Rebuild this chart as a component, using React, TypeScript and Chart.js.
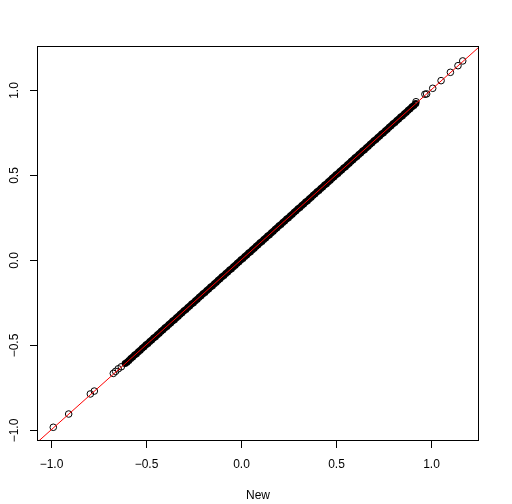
import React, { useEffect, useRef } from "react";
import { Chart, registerables } from "chart.js";

Chart.register(...registerables);

// Axis ticks
const xTickValues = [-1.0, -0.5, 0.0, 0.5, 1.0];
const xTickLabels = ["\u22121.0", "\u22120.5", "0.0", "0.5", "1.0"];
const yTickValues = [-1.0, -0.5, 0.0, 0.5, 1.0];
const yTickLabels = ["\u22121.0", "\u22120.5", "0.0", "0.5", "1.0"];
const xAxisTitle = "New";

// Axis ranges (R style, 4% extension)
const xRange = [-1.0737, 1.2526];
const yRange = [-1.0647, 1.2588];

// Isolated points at the lower tail
const lowTailX = [-0.988, -0.907, -0.793, -0.772, -0.672, -0.66, -0.646, -0.63];
const lowTailY = [-0.984, -0.906, -0.788, -0.771, -0.667, -0.655, -0.64, -0.628];

// Dense band of points
const bandX = [
  -0.61, -0.6, -0.59, -0.58, -0.57, -0.56, -0.55, -0.54, -0.53, -0.52,
  -0.51, -0.5, -0.49, -0.48, -0.47, -0.46, -0.45, -0.44, -0.43, -0.42,
  -0.41, -0.4, -0.39, -0.38, -0.37, -0.36, -0.35, -0.34, -0.33, -0.32,
  -0.31, -0.3, -0.29, -0.28, -0.27, -0.26, -0.25, -0.24, -0.23, -0.22,
  -0.21, -0.2, -0.19, -0.18, -0.17, -0.16, -0.15, -0.14, -0.13, -0.12,
  -0.11, -0.1, -0.09, -0.08, -0.07, -0.06, -0.05, -0.04, -0.03, -0.02,
  -0.01, 0.0, 0.01, 0.02, 0.03, 0.04, 0.05, 0.06, 0.07, 0.08,
  0.09, 0.1, 0.11, 0.12, 0.13, 0.14, 0.15, 0.16, 0.17, 0.18,
  0.19, 0.2, 0.21, 0.22, 0.23, 0.24, 0.25, 0.26, 0.27, 0.28,
  0.29, 0.3, 0.31, 0.32, 0.33, 0.34, 0.35, 0.36, 0.37, 0.38,
  0.39, 0.4, 0.41, 0.42, 0.43, 0.44, 0.45, 0.46, 0.47, 0.48,
  0.49, 0.5, 0.51, 0.52, 0.53, 0.54, 0.55, 0.56, 0.57, 0.58,
  0.59, 0.6, 0.61, 0.62, 0.63, 0.64, 0.65, 0.66, 0.67, 0.68,
  0.69, 0.7, 0.71, 0.72, 0.73, 0.74, 0.75, 0.76, 0.77, 0.78,
  0.79, 0.8, 0.81, 0.82, 0.83, 0.84, 0.85, 0.86, 0.87, 0.88,
  0.89, 0.9, 0.91, 0.92,
];
const bandY = [
  -0.609, -0.601, -0.591, -0.579, -0.571, -0.559, -0.551, -0.539, -0.531, -0.519,
  -0.511, -0.499, -0.491, -0.479, -0.471, -0.459, -0.451, -0.439, -0.431, -0.419,
  -0.411, -0.399, -0.391, -0.379, -0.371, -0.359, -0.351, -0.339, -0.331, -0.319,
  -0.311, -0.299, -0.291, -0.279, -0.271, -0.259, -0.251, -0.239, -0.231, -0.219,
  -0.211, -0.199, -0.191, -0.179, -0.171, -0.159, -0.151, -0.139, -0.131, -0.119,
  -0.111, -0.099, -0.091, -0.079, -0.071, -0.059, -0.051, -0.039, -0.031, -0.019,
  -0.011, 0.001, 0.009, 0.021, 0.029, 0.041, 0.049, 0.061, 0.069, 0.081,
  0.089, 0.101, 0.109, 0.121, 0.129, 0.141, 0.149, 0.161, 0.169, 0.181,
  0.189, 0.201, 0.209, 0.221, 0.229, 0.241, 0.249, 0.261, 0.269, 0.281,
  0.289, 0.301, 0.309, 0.321, 0.329, 0.341, 0.349, 0.361, 0.369, 0.381,
  0.389, 0.401, 0.409, 0.421, 0.429, 0.441, 0.449, 0.461, 0.469, 0.481,
  0.489, 0.501, 0.509, 0.521, 0.529, 0.541, 0.549, 0.561, 0.569, 0.581,
  0.589, 0.601, 0.609, 0.621, 0.629, 0.641, 0.649, 0.661, 0.669, 0.681,
  0.689, 0.701, 0.709, 0.721, 0.729, 0.741, 0.749, 0.761, 0.769, 0.781,
  0.789, 0.801, 0.809, 0.821, 0.829, 0.841, 0.849, 0.861, 0.869, 0.881,
  0.889, 0.901, 0.909, 0.921,
];

// Isolated points at the upper tail
const highTailX = [0.921, 0.968, 0.977, 1.009, 1.053, 1.102, 1.142, 1.167];
const highTailY = [0.931, 0.975, 0.977, 1.01, 1.055, 1.104, 1.143, 1.171];

// Reference line y = a + b x  (abline(0, 1))
const ablineX = [-2, 2];
const ablineY = [-2, 2];

const FONT = '"Liberation Sans", Arial, Helvetica, sans-serif';

function toPoints(xs: number[], ys: number[]) {
  return xs.map((x, i) => ({ x, y: ys[i] }));
}

const rAxesPlugin = {
  id: "rAxes",
  afterDraw(chart: any) {
    const { ctx, chartArea, scales } = chart;
    const { left, right, top, bottom } = chartArea;
    const xs = scales.x;
    const ys = scales.y;
    ctx.save();
    ctx.strokeStyle = "#000";
    ctx.lineWidth = 1;
    ctx.strokeRect(left + 0.5, top + 0.5, right - left - 1, bottom - top - 1);

    ctx.fillStyle = "#000";
    ctx.font = `12px ${FONT}`;
    ctx.textAlign = "center";
    ctx.textBaseline = "middle";
    xTickValues.forEach((v, i) => {
      const px = Math.round(xs.getPixelForValue(v)) + 0.5;
      ctx.beginPath();
      ctx.moveTo(px, bottom - 0.5);
      ctx.lineTo(px, bottom + 7);
      ctx.stroke();
      ctx.fillText(xTickLabels[i], px, bottom + 24);
    });
    ctx.fillText(xAxisTitle, (left + right) / 2, bottom + 55);
    yTickValues.forEach((v, i) => {
      const py = Math.round(ys.getPixelForValue(v)) + 0.5;
      ctx.beginPath();
      ctx.moveTo(left + 0.5, py);
      ctx.lineTo(left - 7, py);
      ctx.stroke();
      ctx.save();
      ctx.translate(left - 22, py);
      ctx.rotate(-Math.PI / 2);
      ctx.fillText(yTickLabels[i], 0, 0);
      ctx.restore();
    });
    ctx.restore();
  },
};

export default function App() {
  const canvasRef = useRef<HTMLCanvasElement | null>(null);

  useEffect(() => {
    document.body.style.margin = "0";
    const canvas = canvasRef.current;
    if (!canvas) return;
    const circleStyle = {
      pointRadius: 3.3,
      pointBorderWidth: 1,
      pointBorderColor: "#000",
      pointBackgroundColor: "rgba(0,0,0,0)",
      pointHoverRadius: 3.3,
      showLine: false,
    };
    // overlapping circles in the dense band merge into a solid black band
    const bandStyle = {
      pointRadius: 2.3,
      pointBorderWidth: 2.4,
      pointBorderColor: "#000",
      pointBackgroundColor: "rgba(0,0,0,0)",
      pointHoverRadius: 2.3,
      showLine: false,
    };
    const chart = new Chart(canvas, {
      type: "scatter",
      data: {
        datasets: [
          {
            type: "line",
            data: toPoints(ablineX, ablineY),
            borderColor: "#ff0000",
            borderWidth: 1,
            pointRadius: 0,
            fill: false,
          } as any,
          { data: toPoints(lowTailX, lowTailY), ...circleStyle },
          { data: toPoints(bandX, bandY), ...bandStyle },
          { data: toPoints(highTailX, highTailY), ...circleStyle },
        ],
      },
      options: {
        animation: false,
        responsive: false,
        devicePixelRatio: 1,
        layout: { padding: { left: 37, top: 46, right: 33, bottom: 63 } },
        plugins: { legend: { display: false }, tooltip: { enabled: false } },
        scales: {
          x: { type: "linear", min: xRange[0], max: xRange[1], display: false },
          y: { type: "linear", min: yRange[0], max: yRange[1], display: false },
        },
      },
      plugins: [rAxesPlugin],
    });
    return () => chart.destroy();
  }, []);

  return (
    <div style={{ width: 512, height: 504, background: "#fff" }}>
      <canvas ref={canvasRef} width={512} height={504} />
    </div>
  );
}
